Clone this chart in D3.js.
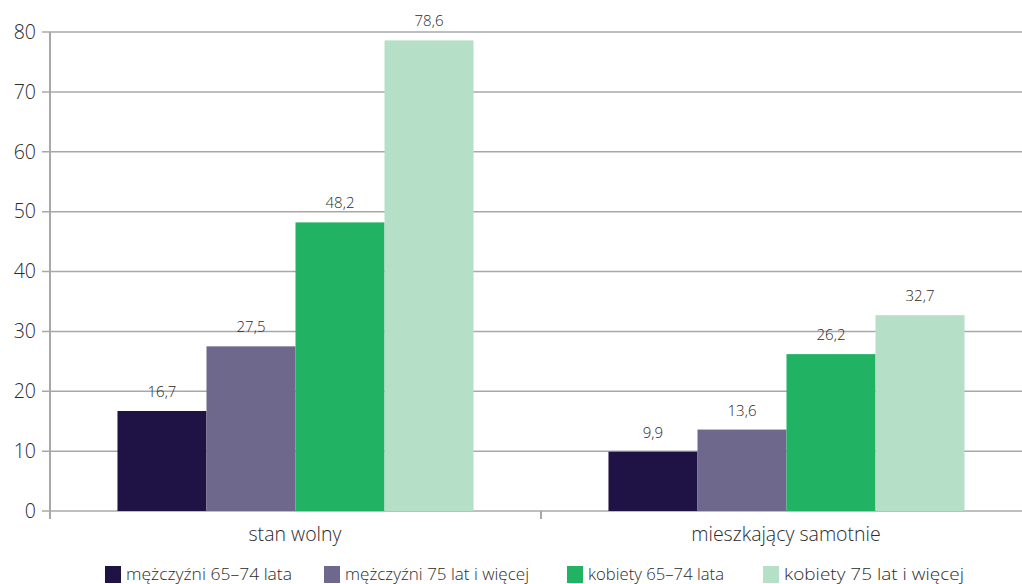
<!DOCTYPE html>
<html>
<head>
<meta charset="utf-8">
<script src="https://cdn.jsdelivr.net/npm/d3@7"></script>
<style>
  html, body { margin: 0; padding: 0; background: #fff; }
  svg { display: block; font-family: "Open Sans", "Noto Sans", sans-serif; }
</style>
</head>
<body>
<svg id="chart" width="1022" height="584"></svg>
<script>
// Categories along the x axis
const categories = ["stan wolny", "mieszkający samotnie"];
// Series (age/sex groups)
const seriesNames = ["mężczyźni 65–74 lata", "mężczyźni 75 lat i więcej", "kobiety 65–74 lata", "kobiety 75 lat i więcej"];
const seriesColors = ["#1f1244", "#6e688c", "#21b263", "#b6dfc8"];
// Values per series, in category order
const men6574 = [16.7, 9.9];
const men75 = [27.5, 13.6];
const women6574 = [48.2, 26.2];
const women75 = [78.6, 32.7];
const yTicks = [0, 10, 20, 30, 40, 50, 60, 70, 80];

const values = [men6574, men75, women6574, women75];

const svg = d3.select("#chart");
const plotLeft = 50, plotRight = 1032, plotTop = 32, plotBottom = 511;

const x0 = d3.scaleBand().domain(categories).range([plotLeft, plotRight]).paddingInner(0).paddingOuter(0);
const x1 = d3.scaleBand().domain(d3.range(seriesNames.length))
  .range([0, x0.bandwidth()]).paddingInner(0).paddingOuter(0.758);
const y = d3.scaleLinear().domain([0, 80]).range([plotBottom, plotTop]);

// Horizontal gridlines
svg.append("g").selectAll("line").data(yTicks).join("line")
  .attr("x1", plotLeft - 8).attr("x2", 1022)
  .attr("y1", d => y(d)).attr("y2", d => y(d))
  .attr("stroke", "#a8a8a8").attr("stroke-width", 1.5);

// Y axis line
svg.append("line").attr("x1", plotLeft).attr("x2", plotLeft)
  .attr("y1", plotTop).attr("y2", plotBottom + 8)
  .attr("stroke", "#a8a8a8").attr("stroke-width", 2);

// Y tick labels
svg.append("g").selectAll("text").data(yTicks).join("text")
  .attr("x", 36).attr("y", d => y(d))
  .attr("dy", "0.35em").attr("text-anchor", "end")
  .attr("font-size", 19.5).attr("font-weight", 300).attr("fill", "#2b2b2b")
  .text(d => d);

// Category ticks on the x axis
svg.append("g").selectAll("line").data(categories.concat(["end"])).join("line")
  .attr("x1", (d, i) => plotLeft + i * x0.bandwidth())
  .attr("x2", (d, i) => plotLeft + i * x0.bandwidth())
  .attr("y1", plotBottom).attr("y2", plotBottom + 8)
  .attr("stroke", "#a8a8a8").attr("stroke-width", 2);

// Bars
const groups = svg.append("g").selectAll("g").data(categories).join("g")
  .attr("transform", d => `translate(${x0(d)},0)`);

groups.selectAll("rect").data((c, ci) => values.map((s, si) => ({ si, v: s[ci] })))
  .join("rect")
  .attr("x", d => x1(d.si)).attr("width", x1.bandwidth())
  .attr("y", d => y(d.v)).attr("height", d => plotBottom - y(d.v))
  .attr("fill", d => seriesColors[d.si]);

// Value labels
const fmt = v => v.toFixed(1).replace(".", ",");
groups.selectAll("text").data((c, ci) => values.map((s, si) => ({ si, v: s[ci] })))
  .join("text")
  .attr("x", d => x1(d.si) + x1.bandwidth() / 2)
  .attr("y", d => y(d.v) - 14)
  .attr("text-anchor", "middle")
  .attr("font-size", 15).attr("font-weight", 300).attr("fill", "#2b2b2b")
  .text(d => fmt(d.v));

// Category labels
svg.append("g").selectAll("text").data(categories).join("text")
  .attr("x", d => x0(d) + x0.bandwidth() / 2 - 0.5)
  .attr("y", 541)
  .attr("text-anchor", "middle")
  .attr("font-size", 19.5).attr("font-weight", 300).attr("fill", "#2b2b2b")
  .text(d => d);

// Legend (condensed text squeezed to fixed widths)
const legendX = [105, 324, 567, 763];
const legend = svg.append("g").selectAll("g").data(seriesNames).join("g")
  .attr("transform", (d, i) => `translate(${legendX[i]},566)`);
legend.append("rect").attr("width", 16).attr("height", 17)
  .attr("fill", (d, i) => seriesColors[i]);
legend.append("text").attr("x", 21).attr("y", 14)
  .attr("font-size", 17).attr("font-weight", 300).attr("fill", "#2b2b2b")
  .attr("textLength", (d, i) => [166, 184, 136, 180][i])
  .attr("lengthAdjust", "spacingAndGlyphs")
  .text(d => d);
</script>
</body>
</html>
